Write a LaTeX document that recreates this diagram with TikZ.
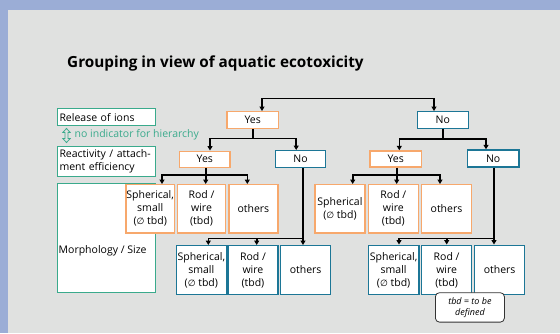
\documentclass[tikz,border=0pt]{standalone}
\usepackage{fontspec}
\setmainfont{Open Sans}
\newfontfamily\dejavu{DejaVu Sans}
\usetikzlibrary{arrows.meta}
\definecolor{bgblue}{RGB}{155,173,214}
\definecolor{panel}{RGB}{224,225,224}
\definecolor{orangeC}{RGB}{247,168,108}
\definecolor{blueC}{RGB}{28,118,150}
\definecolor{greenC}{RGB}{58,170,140}
\newcommand{\dia}{{\dejavu\fontsize{9}{9}\selectfont ∅}}
\tikzset{
  boxbase/.style={draw, fill=white, line width=1.3pt, inner sep=0pt, anchor=north west,
    align=center, font=\fontsize{10.5}{13}\selectfont},
  obox/.style={boxbase, draw=orangeC},
  bbox/.style={boxbase, draw=blueC},
  gbox/.style={boxbase, draw=greenC, align=left, inner xsep=2pt},
  lineC/.style={line width=1.6pt, line join=miter},
  arrC/.style={lineC, -{Triangle[length=4.5pt,width=5pt]}},
  biarrC/.style={lineC, {Triangle[length=4.5pt,width=5pt]}-{Triangle[length=4.5pt,width=5pt]}},
}
\begin{document}
\begin{tikzpicture}[x=1pt,y=-1pt]
\useasboundingbox (0,0) rectangle (560,333);
\fill[bgblue] (0,0) rectangle (560,333);
\fill[panel] (8,10) rectangle (560,333);

% title
\node[anchor=base west, inner sep=0pt, font=\bfseries\fontsize{15.3}{18}\selectfont] (title) at (67,67) {Grouping in view of aquatic ecotoxicity};

% left labels
\node[gbox, minimum width=98.3pt, minimum height=17pt, text width=94pt] (rel) at (56.7,108) {Release of ions};
\node[gbox, minimum width=98.3pt, minimum height=30pt, text width=94pt] (react) at (56.7,146) {Reactivity / attach-\\ment efficiency};
\node[gbox, minimum width=98.3pt, minimum height=109pt] (morph) at (56.7,183) {};
\node[anchor=west, inner sep=0pt, font=\fontsize{10.5}{13}\selectfont] (morphT) at (58.5,251) {Morphology / Size};
\draw[greenC, line width=0.8pt, line join=miter]
  (66.5,128.5) -- (70.2,132.5) -- (68,132.5) -- (68,138.5) -- (70.2,138.5) -- (66.5,142.5)
  -- (62.8,138.5) -- (65,138.5) -- (65,132.5) -- (62.8,132.5) -- cycle;
\node[anchor=west, inner sep=0pt, text=greenC, font=\fontsize{10.5}{13}\selectfont] (hier) at (74.5,135) {no indicator for hierarchy};

% level 1
\node[obox, minimum width=51.5pt, minimum height=17pt] (yes1) at (226.3,111) {Yes};
\node[bbox, minimum width=51pt, minimum height=17pt] (no1) at (416.7,111) {No};

% level 2
\node[obox, minimum width=50.3pt, minimum height=16pt] (yes2L) at (179,150.5) {Yes};
\node[bbox, minimum width=50.3pt, minimum height=17pt] (no2L) at (274.7,150) {No};
\node[obox, minimum width=51.4pt, minimum height=16pt] (yes2R) at (369.3,150.3) {Yes};
\node[bbox, minimum width=51.6pt, minimum height=17pt] (no2R) at (466.7,149.3) {No};

% level 3 (orange)
\node[obox, minimum width=48.5pt, minimum height=48.3pt] (sphL) at (125.3,184) {Spherical,\\small\\(\dia\ tbd)};
\node[obox, minimum width=48.3pt, minimum height=48.3pt] (rodL) at (176.7,184) {Rod /\\wire\\(tbd)};
\node[obox, minimum width=49pt, minimum height=48.3pt] (othL) at (228.2,184) {others};
\node[obox, minimum width=50pt, minimum height=48.3pt] (sphR) at (314.3,184) {Spherical\\(\dia\ tbd)};
\node[obox, minimum width=50pt, minimum height=48.3pt] (rodR) at (367.7,184) {Rod /\\wire\\(tbd)};
\node[obox, minimum width=49.7pt, minimum height=48.3pt] (othR) at (421,184) {others};

% level 4 (blue)
\node[bbox, minimum width=50pt, minimum height=48.5pt] (sphBL) at (175.7,245) {Spherical,\\small\\(\dia\ tbd)};
\node[bbox, minimum width=50pt, minimum height=48.5pt] (rodBL) at (227.3,245) {Rod /\\wire\\(tbd)};
\node[bbox, minimum width=50pt, minimum height=48.5pt] (othBL) at (280,245) {others};
\node[bbox, minimum width=50.6pt, minimum height=49.5pt] (sphBR) at (367.7,244.5) {Spherical,\\small\\(\dia\ tbd)};
\node[bbox, minimum width=50pt, minimum height=49.5pt] (rodBR) at (421,244.5) {Rod /\\wire\\(tbd)};
\node[bbox, minimum width=50pt, minimum height=49.5pt] (othBR) at (474,244.5) {others};

% note
\node[draw=black!80, fill=white, line width=0.8pt, rounded corners=4pt, anchor=north west,
  minimum width=69pt, minimum height=29.4pt, inner sep=0pt, align=center,
  font=\itshape\fontsize{9}{11}\selectfont] (note) at (435,292.3) {tbd = to be\\defined};

% connectors
\coordinate (tL) at (262,98.3);
\coordinate (tR) at (434,98.3);
\draw[biarrC] (tL |- yes1.north) -- (tL) -- (tR) -- (tR |- no1.north);

\coordinate (j1L) at (210,138.5);
\coordinate (j1R) at (296.2,138.5);
\draw[lineC] (yes1.south) -- (yes1.south |- j1L);
\draw[biarrC] (j1L |- yes2L.north) -- (j1L) -- (j1R) -- (j1R |- no2L.north);

\coordinate (j2L) at (399.3,139);
\coordinate (j2R) at (486,139);
\draw[lineC] (no1.south) -- (no1.south |- j2L);
\draw[biarrC] (j2L |- yes2R.north) -- (j2L) -- (j2R) -- (j2R |- no2R.north);

\coordinate (j3L) at (162,175);
\coordinate (j3M) at (205.7,175);
\coordinate (j3R) at (247.3,175);
\draw[lineC] (j3M |- yes2L.south) -- (j3M);
\draw[biarrC] (j3L |- sphL.north) -- (j3L) -- (j3R) -- (j3R |- othL.north);
\draw[arrC] (j3M) -- (j3M |- rodL.north);

\coordinate (j4L) at (352.7,175);
\coordinate (j4M) at (396.7,175);
\coordinate (j4R) at (440,175);
\draw[lineC] (j4M |- yes2R.south) -- (j4M);
\draw[biarrC] (j4L |- sphR.north) -- (j4L) -- (j4R) -- (j4R |- othR.north);
\draw[arrC] (j4M) -- (j4M |- rodR.north);

\coordinate (j5L) at (208.3,238.3);
\coordinate (j5M) at (256.7,238.3);
\coordinate (j5R) at (303,238.3);
\draw[arrC] (j5R |- no2L.south) -- (j5R |- othBL.north);
\draw[arrC] (j5R) -- (j5L) -- (j5L |- sphBL.north);
\draw[arrC] (j5M) -- (j5M |- rodBL.north);

\coordinate (j6L) at (399,238.3);
\coordinate (j6M) at (446.7,238.3);
\coordinate (j6R) at (494,238.3);
\draw[arrC] (j6R |- no2R.south) -- (j6R |- othBR.north);
\draw[arrC] (j6R) -- (j6L) -- (j6L |- sphBR.north);
\draw[arrC] (j6M) -- (j6M |- rodBR.north);
\end{tikzpicture}
\end{document}
